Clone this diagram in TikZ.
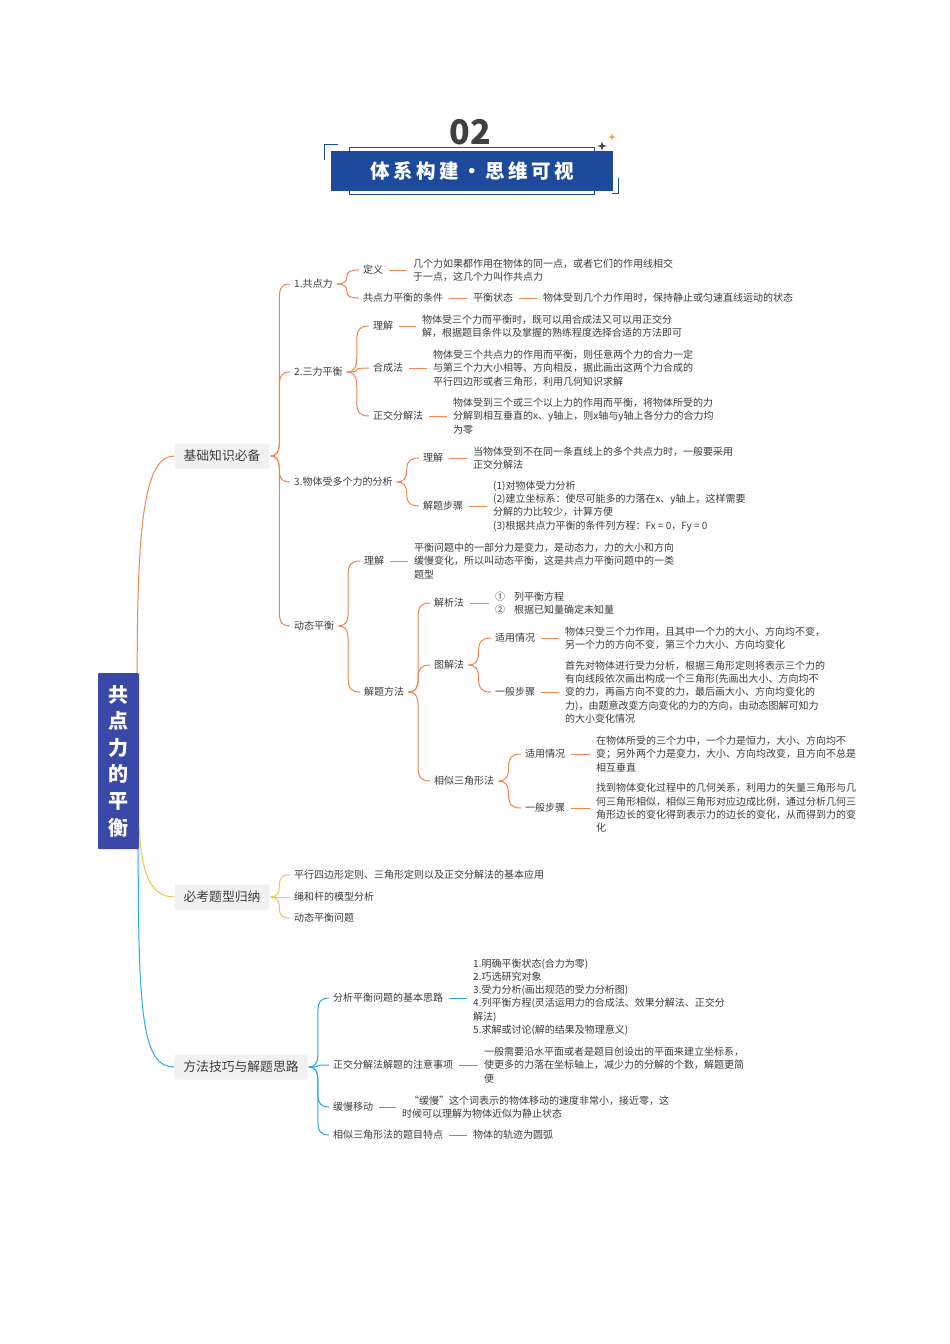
\documentclass[tikz,border=0pt]{standalone}
\usepackage{fontspec}
\setmainfont{Noto Sans CJK SC}
\usetikzlibrary{calc}
\definecolor{org}{HTML}{EF8550}
\definecolor{yel}{HTML}{F5C243}
\definecolor{blu}{HTML}{2AA9E0}
\definecolor{rootc}{HTML}{3A48A8}
\definecolor{titc}{HTML}{1D4A9B}
\definecolor{txt}{HTML}{3C3C3C}
\definecolor{numc}{HTML}{404040}
\definecolor{boxc}{HTML}{F1F1F1}
\definecolor{starc}{HTML}{F0A040}
\tikzset{
  lab/.style={anchor=west, inner xsep=4pt, inner ysep=1pt, font=\fontsize{10}{13.3}\selectfont, text=txt},
  desc/.style={lab, align=left},
  topic/.style={fill=boxc, rounded corners=2pt, inner xsep=9pt, inner ysep=0pt, minimum height=25pt, font=\fontsize{12.8}{15}\selectfont, text=txt},
  brc/.style={to path={let \p1=(\tikztostart), \p2=(\tikztotarget), \n1={0.45*(\x2-\x1)}, \n2={(\y2>\y1 ? 1 : -1)*min(14, abs(\y2-\y1)/2)} in .. controls (\x1+0.7*\n1,\y1) and (\x1+\n1,\y1+0.3*\n2) .. (\x1+\n1,\y1+\n2) -- (\x1+\n1,\y2-\n2) .. controls (\x1+\n1,\y2-0.2*\n2) and (\x1+1.4*\n1,\y2) .. (\x2,\y2)}},
  dsh/.style={shorten <=2pt, shorten >=2pt},
  conn/.style={line width=1pt},
}
\begin{document}
\begin{tikzpicture}[x=1pt,y=1pt]
\useasboundingbox (0,0) rectangle (950,-1344);
\fill[white] (0,0) rectangle (950,-1344);

% ---------- header ----------
\node[font=\fontsize{34}{34}\selectfont\bfseries, text=numc] (num) at (470,-132) {02};
\draw[titc, line width=0.8pt] (349,-194) rectangle (594,-147);
\node[fill=titc, minimum width=282pt, minimum height=40pt, inner sep=0pt, text=white,
      font=\fontsize{19.5}{20}\selectfont\bfseries\addfontfeature{LetterSpace=18}] (tit) at (472,-171) {体系构建・思维可视};
\draw[titc, line width=0.9pt] (324,-160) -- (324,-144) -- (338,-144);
\draw[titc, line width=0.9pt] (612,-193) -- (618,-193) -- (618,-178);
\fill[numc] (602,-141) -- (603,-145) -- (607,-146) -- (603,-147) -- (602,-151) -- (601,-147) -- (597,-146) -- (601,-145) -- cycle;
\fill[starc] (612,-133) -- (612.8,-136.2) -- (616,-137) -- (612.8,-137.8) -- (612,-141) -- (611.2,-137.8) -- (608,-137) -- (611.2,-136.2) -- cycle;

% ---------- root ----------
\node[fill=rootc, rounded corners=1pt, minimum width=41pt, minimum height=176pt, inner sep=0pt, text=white,
      align=center, font=\fontsize{20}{26.6}\selectfont\bfseries] (root) at (118.5,-761) {共\\点\\力\\的\\平\\衡};

% ---------- main topics ----------
\node[topic] (b1) at (222,-456) {基础知识必备};
\node[topic] (b2) at (222,-897) {必考题型归纳};
\node[topic] (b3) at (241,-1067) {方法技巧与解题思路};

\draw[org, conn] ($(root.north east)+(-2,0)$) .. controls +(0,150) and +(-30,0) .. (b1.west);
\draw[yel, conn] ($(root.south east)+(0,23)$) .. controls +(2,-45) and +(-25,0) .. (b2.west);
\draw[blu, conn] ($(root.south east)+(-1,0)$) .. controls +(0,-165) and +(-32,0) .. (b3.west);

% ---------- section 1 ----------
\node[lab] (n1) at (290,-284) {1.共点力};
\node[lab] (n11) at (359,-270) {定义};
\node[desc] (d11) at (409,-270) {几个力如果都作用在物体的同一点，或者它们的作用线相交\\于一点，这几个力叫作共点力};
\node[lab] (n12) at (359,-298) {共点力平衡的条件};
\node[lab] (n121) at (469,-298) {平衡状态};
\node[lab] (d12) at (539,-298) {物体受到几个力作用时，保持静止或匀速直线运动的状态};

\node[lab] (n2) at (290,-372) {2.三力平衡};
\node[lab] (n21) at (369,-326) {理解};
\node[desc] (d21) at (418,-326) {物体受三个力而平衡时，既可以用合成法又可以用正交分\\解，根据题目条件以及掌握的熟练程度选择合适的方法即可};
\node[lab] (n22) at (369,-368) {合成法};
\node[desc] (d22) at (429,-368) {物体受三个共点力的作用而平衡，则任意两个力的合力一定\\与第三个力大小相等、方向相反，据此画出这两个力合成的\\平行四边形或者三角形，利用几何知识求解};
\node[lab] (n23) at (369,-416) {正交分解法};
\node[desc] (d23) at (449,-416) {物体受到三个或三个以上力的作用而平衡，将物体所受的力\\分解到相互垂直的x、y轴上，则x轴与y轴上各分力的合力均\\为零};

\node[lab] (n3) at (290,-482) {3.物体受多个力的分析};
\node[lab] (n31) at (419,-458) {理解};
\node[desc] (d31) at (469,-458) {当物体受到不在同一条直线上的多个共点力时，一般要采用\\正交分解法};
\node[lab] (n32) at (419,-506) {解题步骤};
\node[desc] (d32) at (489,-506) {(1)对物体受力分析\\(2)建立坐标系：使尽可能多的力落在x、y轴上，这样需要\\分解的力比较少，计算方便\\(3)根据共点力平衡的条件列方程：Fx = 0，Fy = 0};

\node[lab] (n4) at (290,-626) {动态平衡};
\node[lab] (n41) at (360,-561) {理解};
\node[desc] (d41) at (410,-561) {平衡问题中的一部分力是变力，是动态力，力的大小和方向\\缓慢变化，所以叫动态平衡，这是共点力平衡问题中的一类\\题型};
\node[lab] (n42) at (360,-692) {解题方法};
\node[lab] (n421) at (430,-603) {解析法};
\node[desc] (d421) at (491,-603) {①\hspace{9pt}列平衡方程\\②\hspace{9pt}根据已知量确定未知量};
\node[lab] (n422) at (430,-665) {图解法};
\node[lab] (n4221) at (491,-638) {适用情况};
\node[desc] (d4221) at (561,-638) {物体只受三个力作用，且其中一个力的大小、方向均不变，\\另一个力的方向不变，第三个力大小、方向均变化};
\node[lab] (n4222) at (491,-692) {一般步骤};
\node[desc] (d4222) at (561,-692) {首先对物体进行受力分析，根据三角形定则将表示三个力的\\有向线段依次画出构成一个三角形(先画出大小、方向均不\\变的力，再画方向不变的力，最后画大小、方向均变化的\\力)，由题意改变方向变化的力的方向，由动态图解可知力\\的大小变化情况};
\node[lab] (n423) at (430,-781) {相似三角形法};
\node[lab] (n4231) at (521,-754) {适用情况};
\node[desc] (d4231) at (592,-754) {在物体所受的三个力中，一个力是恒力，大小、方向均不\\变；另外两个力是变力，大小、方向均改变，且方向不总是\\相互垂直};
\node[lab] (n4232) at (521,-808) {一般步骤};
\node[desc] (d4232) at (592,-808) {找到物体变化过程中的几何关系，利用力的矢量三角形与几\\何三角形相似，相似三角形对应边成比例，通过分析几何三\\角形边长的变化得到表示力的边长的变化，从而得到力的变\\化};

\begin{scope}[org, conn]
\foreach \c in {n1,n2,n3,n4} \draw ($(b1.east)+(1,0)$) to[brc] (\c.west);
\foreach \c in {n11,n12} \draw (n1.east) to[brc] (\c.west);
\foreach \c in {n21,n22,n23} \draw (n2.east) to[brc] (\c.west);
\foreach \c in {n31,n32} \draw (n3.east) to[brc] (\c.west);
\foreach \c in {n41,n42} \draw (n4.east) to[brc] (\c.west);
\foreach \c in {n421,n422,n423} \draw (n42.east) to[brc] (\c.west);
\foreach \c in {n4221,n4222} \draw (n422.east) to[brc] (\c.west);
\foreach \c in {n4231,n4232} \draw (n423.east) to[brc] (\c.west);
\draw[dsh] (n11.east) -- (d11.west);
\draw[dsh] (n12.east) -- (n121.west);
\draw[dsh] (n121.east) -- (d12.west);
\draw[dsh] (n21.east) -- (d21.west);
\draw[dsh] (n22.east) -- (d22.west);
\draw[dsh] (n23.east) -- (d23.west);
\draw[dsh] (n31.east) -- (d31.west);
\draw[dsh] (n32.east) -- (d32.west);
\draw[dsh] (n41.east) -- (d41.west);
\draw[dsh] (n421.east) -- (d421.west);
\draw[dsh] (n4221.east) -- (d4221.west);
\draw[dsh] (n4222.east) -- (d4222.west);
\draw[dsh] (n4231.east) -- (d4231.west);
\draw[dsh] (n4232.east) -- (d4232.west);
\end{scope}

% ---------- section 2 ----------
\node[lab] (y1) at (290,-875) {平行四边形定则、三角形定则以及正交分解法的基本应用};
\node[lab] (y2) at (290,-897) {绳和杆的模型分析};
\node[lab] (y3) at (290,-918) {动态平衡问题};
\begin{scope}[yel, conn]
\foreach \c in {y1,y2,y3} \draw ($(b2.east)+(1,0)$) to[brc] (\c.west);
\end{scope}

% ---------- section 3 ----------
\node[lab] (m1) at (329,-998) {分析平衡问题的基本思路};
\node[desc] (e1) at (469,-997) {1.明确平衡状态(合力为零)\\2.巧选研究对象\\3.受力分析(画出规范的受力分析图)\\4.列平衡方程(灵活运用力的合成法、效果分解法、正交分\\解法)\\5.求解或讨论(解的结果及物理意义)};
\node[lab] (m2) at (329,-1065) {正交分解法解题的注意事项};
\node[desc] (e2) at (480,-1065) {一般需要沿水平面或者是题目创设出的平面来建立坐标系，\\使更多的力落在坐标轴上，减少力的分解的个数，解题更简\\便};
\node[lab] (m3) at (329,-1107) {缓慢移动};
\node[desc] (e3) at (398,-1107) {\hspace*{7pt}“缓慢”这个词表示的物体移动的速度非常小，接近零，这\\时候可以理解为物体近似为静止状态};
\node[lab] (m4) at (329,-1135) {相似三角形法的题目特点};
\node[lab] (e4) at (469,-1135) {物体的轨迹为圆弧};
\begin{scope}[blu, conn]
\foreach \c in {m1,m2,m3,m4} \draw ($(b3.east)+(1,0)$) to[brc] (\c.west);
\draw[dsh] (m1.east) -- (m1.east -| e1.west);
\draw[dsh] (m2.east) -- (e2.west);
\draw[dsh] (m3.east) -- (e3.west);
\draw[dsh] (m4.east) -- (e4.west);
\end{scope}
\end{tikzpicture}
\end{document}
